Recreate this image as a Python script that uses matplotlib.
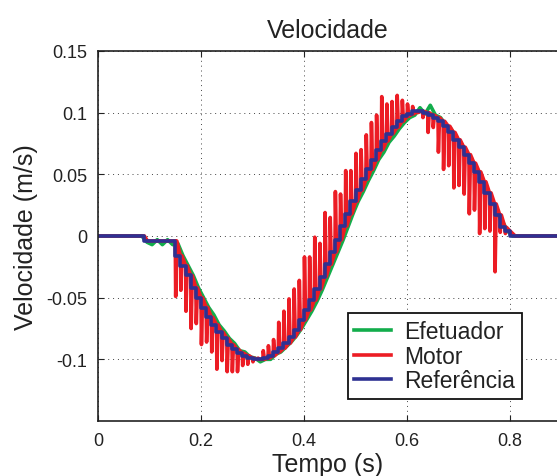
import numpy as np
import matplotlib
matplotlib.use("Agg")
import matplotlib.pyplot as plt

plt.rcParams['font.family'] = ['Liberation Sans', 'DejaVu Sans']

# Referência (amostrada, segurador de ordem zero)
ref_t = [0.00, 0.09, 0.15, 0.16, 0.17, 0.18, 0.19, 0.20, 0.21, 0.22, 0.23, 0.24,
         0.25, 0.26, 0.27, 0.28, 0.29, 0.30, 0.31, 0.32, 0.33, 0.34, 0.35, 0.36,
         0.37, 0.38, 0.39, 0.40, 0.41, 0.42, 0.43, 0.44, 0.45, 0.46, 0.47, 0.48,
         0.49, 0.50, 0.51, 0.52, 0.53, 0.54, 0.55, 0.56, 0.57, 0.58, 0.59, 0.60,
         0.61, 0.62, 0.63, 0.64, 0.65, 0.66, 0.67, 0.68, 0.69, 0.70, 0.71, 0.72,
         0.73, 0.74, 0.75, 0.76, 0.77, 0.78, 0.79, 0.80, 0.90]
ref_v = [0.000, -0.004, -0.016, -0.024, -0.032, -0.042, -0.050, -0.058, -0.066,
         -0.072, -0.078, -0.083, -0.088, -0.092, -0.095, -0.097, -0.099, -0.100,
         -0.100, -0.099, -0.097, -0.094, -0.091, -0.087, -0.082, -0.076, -0.068,
         -0.060, -0.052, -0.043, -0.033, -0.023, -0.013, -0.003, 0.008, 0.018,
         0.028, 0.037, 0.046, 0.054, 0.062, 0.070, 0.077, 0.083, 0.088, 0.093,
         0.097, 0.099, 0.101, 0.101, 0.100, 0.098, 0.096, 0.093, 0.089, 0.084,
         0.078, 0.072, 0.066, 0.059, 0.052, 0.044, 0.035, 0.026, 0.017, 0.007,
         0.004, 0.000, 0.000]

# Picos do motor em cada degrau (a partir de t = 0.15)
motor_pico = [-0.049, -0.044, -0.061, -0.075, -0.071, -0.088, -0.086, -0.094,
              -0.108, -0.101, -0.110, -0.110, -0.110, -0.105, -0.104, -0.102,
              -0.099, -0.093, -0.089, -0.084, -0.070, -0.061, -0.051, -0.043,
              -0.036, -0.017, -0.017, -0.001, -0.006, 0.019, 0.015, 0.036,
              0.034, 0.053, 0.053, 0.067, 0.070, 0.082, 0.092, 0.098, 0.113,
              0.107, 0.109, 0.114, 0.110, 0.107, 0.105, 0.100, 0.096, 0.084,
              0.088, 0.068, 0.054, 0.057, 0.039, 0.041, 0.034, 0.018, 0.021,
              0.002, 0.006, 0.004, -0.029, 0.003, 0.002]

# Efetuador
efet_t = [0.00, 0.085, 0.095, 0.105, 0.115, 0.125, 0.135, 0.145, 0.155, 0.165,
          0.175, 0.185, 0.195, 0.205, 0.215, 0.225, 0.235, 0.245, 0.255, 0.265,
          0.275, 0.285, 0.295, 0.305, 0.315, 0.325, 0.335, 0.345, 0.355, 0.365,
          0.375, 0.385, 0.395, 0.405, 0.415, 0.425, 0.435, 0.445, 0.455, 0.465,
          0.475, 0.485, 0.495, 0.505, 0.515, 0.525, 0.535, 0.545, 0.555, 0.565,
          0.575, 0.585, 0.595, 0.605, 0.615, 0.625, 0.635, 0.645, 0.655, 0.665,
          0.675, 0.685, 0.695, 0.705, 0.715, 0.725, 0.735, 0.745, 0.755, 0.765,
          0.775, 0.785, 0.795, 0.805, 0.90]
efet_v = [0.000, 0.000, -0.005, -0.007, -0.003, -0.007, -0.003, -0.007, -0.006,
          -0.016, -0.024, -0.032, -0.042, -0.050, -0.058, -0.064, -0.072, -0.077,
          -0.083, -0.087, -0.093, -0.094, -0.098, -0.099, -0.102, -0.100, -0.100,
          -0.096, -0.094, -0.090, -0.086, -0.081, -0.075, -0.068, -0.061, -0.053,
          -0.044, -0.034, -0.024, -0.014, -0.004, 0.007, 0.018, 0.028, 0.036,
          0.045, 0.053, 0.062, 0.068, 0.076, 0.081, 0.087, 0.092, 0.096, 0.098,
          0.104, 0.099, 0.106, 0.098, 0.096, 0.090, 0.087, 0.080, 0.075, 0.067,
          0.063, 0.053, 0.048, 0.037, 0.030, 0.018, 0.012, 0.004, 0.000, 0.000]

# Monta o traço do motor: pico em cada degrau e volta gradual ao novo nível
mot_t = [ref_t[0], ref_t[1], ref_t[1] + 0.006]
mot_v = [ref_v[0], ref_v[0], ref_v[1]]
for k, pico in enumerate(motor_pico):
    i = k + 2
    t0 = ref_t[i]
    anterior = ref_v[i - 1]
    mot_t += [t0, t0 + 0.0008, t0 + 0.003]
    mot_v += [anterior, pico, anterior]
    mot_t.append(ref_t[i + 1])
    mot_v.append(ref_v[i])
mot_t += [ref_t[-2] + 0.01, ref_t[-1]]
mot_v += [ref_v[-2], ref_v[-1]]

fig = plt.figure(figsize=(5.57, 4.77), dpi=100)
ax = fig.add_axes([98 / 557, 55 / 477, 459 / 557, 370 / 477])

ax.plot(efet_t, efet_v, color='#12ad4b', lw=2.6, label='Efetuador')
ax.plot(mot_t, mot_v, color='#ec1c24', lw=2.6, label='Motor')
ax.step(ref_t, ref_v, where='post', color='#2e3192', lw=2.6, label='Referência')

ax.set_xlim(0, 0.891)
ax.set_ylim(-0.15, 0.15)
ax.set_xticks([0, 0.2, 0.4, 0.6, 0.8])
ax.set_xticklabels(['0', '0.2', '0.4', '0.6', '0.8'])
ax.set_yticks([-0.1, -0.05, 0, 0.05, 0.1, 0.15])
ax.set_yticklabels(['-0.1', '-0.05', '0', '0.05', '0.1', '0.15'])
ax.tick_params(direction='in', length=4, width=0.8, labelsize=13, colors='#222222',
               top=True, right=False, pad=8)
ax.grid(True, linestyle=(0, (1, 4)), color='#444444', lw=0.7)
for s in ax.spines.values():
    s.set_linewidth(1.2)
    s.set_color('#222222')
ax.spines['right'].set_visible(False)

ax.set_title('Velocidade', fontsize=18, color='#222222', pad=10)
ax.set_xlabel('Tempo (s)', fontsize=18, color='#222222', labelpad=2)
ax.set_ylabel('Velocidade (m/s)', fontsize=18, color='#222222', labelpad=6)

leg = ax.legend(loc='lower left', bbox_to_anchor=(0.544, 0.06), fontsize=16.5,
                fancybox=False, edgecolor='#111111', framealpha=1,
                handlelength=1.6, handletextpad=0.6, labelspacing=0.08,
                borderpad=0.28, borderaxespad=0)
leg.get_frame().set_linewidth(1.3)
for t in leg.get_texts():
    t.set_color('#222222')

fig.savefig('out.png', dpi=100)
